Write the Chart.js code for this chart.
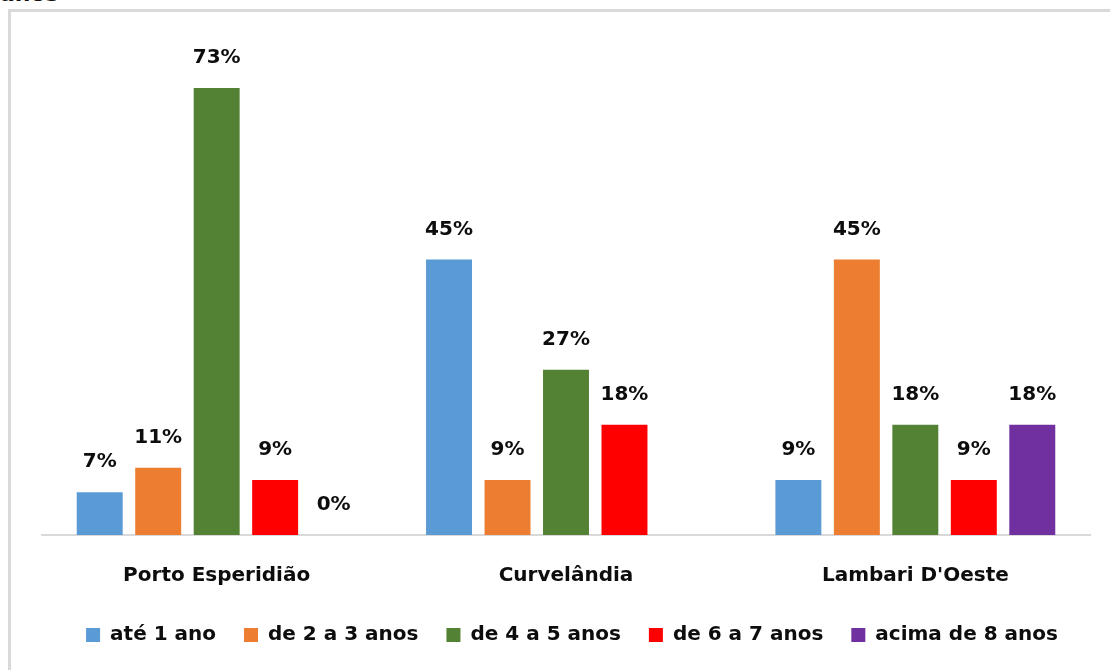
<!DOCTYPE html>
<html>
<head>
<meta charset="utf-8">
<script src="https://cdn.jsdelivr.net/npm/chart.js@4"></script>
<style>
  html, body { margin: 0; padding: 0; background: #fff; overflow: hidden; }
  #wrap { position: relative; width: 1110px; height: 670px; overflow: hidden; }
  .rule { position: absolute; background: #d9d9d9; pointer-events: none; }
  #ruleTop { left: 8px; top: 9px; width: 1102px; height: 3px; }
  #ruleLeft { left: 8px; top: 9px; width: 3px; height: 661px; }
  #cap {
    position: absolute; left: 0; top: -19px; line-height: 24px;
    font: bold 22px "DejaVu Sans", sans-serif; color: #111;
  }
  canvas { position: absolute; left: 0; top: 0; }
</style>
</head>
<body>
<div id="wrap">
  <div id="cap">anos</div>
  <div class="rule" id="ruleTop"></div>
  <div class="rule" id="ruleLeft"></div>
  <canvas id="c" width="1110" height="670"></canvas>
</div>
<script>
const municipios = ["Porto Esperidião", "Curvelândia", "Lambari D'Oeste"];
const ate1 = [7, 45, 9];
const de2a3 = [11, 9, 45];
const de4a5 = [73, 27, 18];
const de6a7 = [9, 18, 9];
const acima8 = [0, null, 18];
const faixas = ["até 1 ano", "de 2 a 3 anos", "de 4 a 5 anos", "de 6 a 7 anos", "acima de 8 anos"];
const cores = ["#5b9bd5", "#ed7d31", "#548235", "#ff0000", "#7030a0"];

const FONT = '"DejaVu Sans", "Open Sans", sans-serif';
const INK = '#0d0d0d';

const series = [ate1, de2a3, de4a5, de6a7, acima8];

// Percent labels above each bar
const valueLabels = {
  id: 'valueLabels',
  afterDatasetsDraw(chart) {
    const ctx = chart.ctx;
    ctx.save();
    ctx.font = 'bold 20px ' + FONT;
    ctx.fillStyle = INK;
    ctx.textAlign = 'center';
    ctx.textBaseline = 'middle';
    chart.data.datasets.forEach((ds, i) => {
      const meta = chart.getDatasetMeta(i);
      meta.data.forEach((bar, j) => {
        const v = ds.data[j];
        if (v === null || v === undefined) return;
        ctx.fillText(v + '%', bar.x, bar.y - 30);
      });
    });
    ctx.restore();
  }
};

// Pull the legend row a little closer to the category labels
const legendNudge = {
  id: 'legendNudge',
  afterLayout(chart) {
    const lg = chart.legend;
    if (!lg) return;
    lg.top -= 12;
    lg.bottom -= 12;
    lg.left += 6;
    lg.right += 6;
  }
};

new Chart(document.getElementById('c'), {
  type: 'bar',
  data: {
    labels: municipios,
    datasets: series.map((d, i) => ({
      label: faixas[i],
      data: d,
      backgroundColor: cores[i],
      borderWidth: 0,
      categoryPercentage: 0.837,
      barPercentage: 0.786
    }))
  },
  options: {
    responsive: false,
    animation: false,
    layout: { padding: { left: 42, right: 20, top: 45, bottom: 3 } },
    scales: {
      x: {
        grid: { display: false },
        border: { display: true, color: '#d9d9d9', width: 2 },
        ticks: { color: INK, font: { family: FONT, size: 20, weight: 'bold' }, padding: 21 }
      },
      y: {
        display: false,
        min: 0,
        max: 80
      }
    },
    plugins: {
      legend: {
        position: 'bottom',
        labels: {
          boxWidth: 14,
          boxHeight: 14,
          padding: 28,
          color: INK,
          font: { family: FONT, size: 20, weight: 'bold' }
        }
      },
      tooltip: { enabled: false }
    }
  },
  plugins: [valueLabels, legendNudge]
});
</script>
</body>
</html>
